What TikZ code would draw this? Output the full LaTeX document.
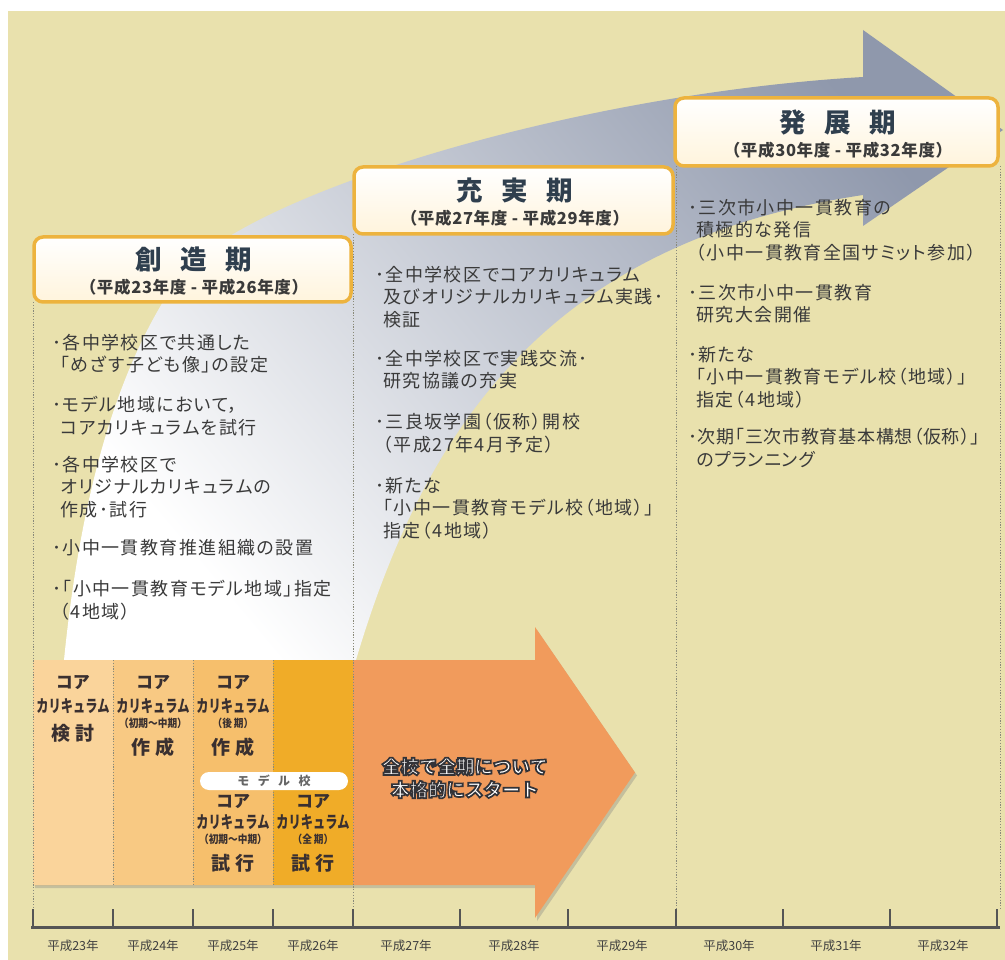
\documentclass[tikz,border=0pt]{standalone}
\usepackage{fontspec}
\usepackage{graphicx}
\setmainfont{Noto Sans CJK JP}
\newfontfamily\jpT{Noto Sans CJK JP}[CharacterWidth=AlternateProportional, LetterSpace=8]
\newfontfamily\jpC{Noto Sans CJK JP}[CharacterWidth=AlternateProportional, LetterSpace=4]
\newfontfamily\jpS{Noto Sans CJK JP}[LetterSpace=4]
\usetikzlibrary{shadows}
\definecolor{bg}{HTML}{E9E1AD}
\definecolor{bandgray}{HTML}{8F98AC}
\definecolor{bandmid}{HTML}{D0D3DB}
\definecolor{orangearr}{HTML}{F19B5C}
\definecolor{cA}{HTML}{FAD49B}
\definecolor{cB}{HTML}{F8C983}
\definecolor{cC}{HTML}{F6BF6C}
\definecolor{cD}{HTML}{F0AC28}
\definecolor{boxborder}{HTML}{EDB33E}
\definecolor{boxfill}{HTML}{FFF4DC}
\definecolor{titlecol}{HTML}{2F3F4E}
\definecolor{textcol}{HTML}{3A3A3A}
\definecolor{celltext}{HTML}{3A3030}
\definecolor{dotcol}{HTML}{8A8A7A}
\definecolor{axiscol}{HTML}{555555}
\newcommand{\outl}[1]{\special{pdf:literal direct 2 Tr 1.7 w 0.2 0.2 0.22 RG}#1\special{pdf:literal direct 0 Tr}}
\newcommand{\kari}{\scalebox{0.72}[1]{カリキュラム}}
\begin{document}
\begin{tikzpicture}[x=1pt,y=-1pt,
  dotline/.style={draw=dotcol, line width=0.8pt, dash pattern=on 1.2pt off 1.6pt},
  phasebox/.style={draw=boxborder, line width=3.5pt, rounded corners=9pt, top color=white, bottom color=boxfill, inner sep=0pt},
  phasetitle/.style={inner sep=0pt, text=titlecol, font=\bfseries\fontsize{26.5}{26.5}\selectfont},
  phasesub/.style={inner sep=0pt, text=textcol, font=\jpS\bfseries\fontsize{16.5}{16.5}\selectfont},
  bulletitem/.style={anchor=north west, inner sep=0pt, align=left, text=textcol, font=\jpT\fontsize{18}{22.5}\selectfont},
  celltxt/.style={inner sep=0pt, text=celltext, font=\bfseries\fontsize{17}{17}\selectfont},
  cellsmall/.style={inner sep=0pt, text=celltext, font=\bfseries\fontsize{11}{11}\selectfont},
  cellbig/.style={inner sep=0pt, text=celltext, font=\bfseries\fontsize{19}{19}\selectfont},
  yearlbl/.style={inner sep=0pt, text=black!75, font=\fontsize{12.5}{12.5}\selectfont},
  axisline/.style={draw=axiscol, line width=3pt},
  tickline/.style={draw=axiscol, line width=1.6pt}
]
\useasboundingbox (0,0) rectangle (1005,960);
\fill[white] (0,0) rectangle (1005,960);
\fill[bg] (8,11) rectangle (1005,960);

% big curved gray arrow
\path[top color=bandgray, middle color=bandmid, bottom color=white, shading angle=-50]
  (64,660) .. controls (82,480) and (122,360) .. (177,280)
  .. controls (232,200) and (560,95) .. (863,77)
  -- (863,30) -- (1003,130) -- (863,226) -- (863,195)
  .. controls (563,240) and (430,410) .. (356,660) -- cycle;

% phase boxes
\node[phasebox, minimum width=317pt, minimum height=65pt] (boxA) at (192.5,269.5) {};
\node[phasebox, minimum width=319pt, minimum height=67pt] (boxB) at (513.5,200.5) {};
\node[phasebox, minimum width=323pt, minimum height=68pt] (boxC) at (836.5,132) {};
\node[phasetitle] (titleA) at (194,259) {創\hspace{0.7em}造\hspace{0.7em}期};
\node[phasesub] (subA) at (194,287) {（平成23年度 - 平成26年度）};
\node[phasetitle] (titleB) at (515,190) {充\hspace{0.7em}実\hspace{0.7em}期};
\node[phasesub] (subB) at (515,218) {（平成27年度 - 平成29年度）};
\node[phasetitle] (titleC) at (838,122) {発\hspace{0.7em}展\hspace{0.7em}期};
\node[phasesub] (subC) at (838,150) {（平成30年度 - 平成32年度）};

% orange arrow
\path[fill=orangearr, drop shadow={shadow xshift=2pt, shadow yshift=-3pt, opacity=0.35}]
  (33,660) -- (535,660) -- (535,627) -- (635,772.5) -- (535,918) -- (535,885) -- (33,885) -- cycle;

% cells
\fill[cA] (33,660) rectangle (113,885);
\fill[cB] (113,660) rectangle (193,885);
\fill[cC] (193,660) rectangle (273,885);
\fill[cD] (273,660) rectangle (353,885);

% dotted lines
\draw[dotline] (33,302) -- (33,909);
\draw[dotline] (353,234) -- (353,909);
\draw[dotline] (676,166) -- (676,909);
\draw[dotline] (1000,166) -- (1000,909);
\draw[dotline] (113,660) -- (113,885);
\draw[dotline] (193,660) -- (193,885);
\draw[dotline] (273,660) -- (273,885);

% cell texts
\node[celltxt] (a1) at (73,683) {コア};
\node[celltxt] (a2) at (73,706) {\kari};
\node[cellbig] (a3) at (73,733) {検\hspace{0.25em}討};
\node[celltxt] (b1) at (153,683) {コア};
\node[celltxt] (b2) at (153,706) {\kari};
\node[cellsmall] (b3) at (153,723) {\scalebox{0.88}[1]{（初期〜中期）}};
\node[cellbig] (b4) at (153,747) {作\hspace{0.25em}成};
\node[celltxt] (c1) at (233,683) {コア};
\node[celltxt] (c2) at (233,706) {\kari};
\node[cellsmall] (c3) at (233,723) {\scalebox{0.88}[1]{（後\hspace{0.2em}期）}};
\node[cellbig] (c4) at (233,747) {作\hspace{0.25em}成};
\node[fill=white, rounded corners=9pt, minimum width=148pt, minimum height=18pt, inner sep=0pt, text=black!60, font=\bfseries\fontsize{12}{12}\selectfont] (pill) at (274,781) {モ\hspace{0.7em}デ\hspace{0.7em}ル\hspace{0.7em}校};
\node[celltxt] (c5) at (233,802) {コア};
\node[celltxt] (c6) at (233,822) {\kari};
\node[cellsmall] (c7) at (233,839) {\scalebox{0.88}[1]{（初期〜中期）}};
\node[cellbig] (c8) at (233,863) {試\hspace{0.25em}行};
\node[celltxt] (d1) at (313,802) {コア};
\node[celltxt] (d2) at (313,822) {\kari};
\node[cellsmall] (d3) at (313,839) {\scalebox{0.88}[1]{（全\hspace{0.2em}期）}};
\node[cellbig] (d4) at (313,863) {試\hspace{0.25em}行};

% column A items
\node[bulletitem] (A1) at (52,334) {･各中学校区で共通した\\\hspace*{0.45em}「めざす子ども像」の設定};
\node[bulletitem] (A2) at (52,396) {･モデル地域において，\\\hspace*{0.45em}コアカリキュラムを試行};
\node[bulletitem] (A3) at (52,456) {･各中学校区で\\\hspace*{0.45em}オリジナルカリキュラムの\\\hspace*{0.45em}作成･試行};
\node[bulletitem] (A4) at (52,539) {･小中一貫教育推進組織の設置};
\node[bulletitem] (A5) at (52,580) {･「小中一貫教育モデル地域」指定\\\hspace*{0.45em}（4地域）};
% column B items
\node[bulletitem] (B1) at (375,266) {･全中学校区でコアカリキュラム\\\hspace*{0.45em}及びオリジナルカリキュラム実践･\\\hspace*{0.45em}検証};
\node[bulletitem] (B2) at (375,350) {･全中学校区で実践交流･\\\hspace*{0.45em}研究協議の充実};
\node[bulletitem] (B3) at (375,413) {･三良坂学園（仮称）開校\\\hspace*{0.45em}（平成27年4月予定）};
\node[bulletitem] (B4) at (375,477) {･新たな\\\hspace*{0.45em}「小中一貫教育モデル校（地域）」\\\hspace*{0.45em}指定（4地域）};
% column C items
\node[bulletitem] (C1) at (688,199) {･三次市小中一貫教育の\\\hspace*{0.45em}積極的な発信\\\hspace*{0.45em}（小中一貫教育全国サミット参加）};
\node[bulletitem] (C2) at (688,284) {･三次市小中一貫教育\\\hspace*{0.45em}研究大会開催};
\node[bulletitem] (C3) at (688,346) {･新たな\\\hspace*{0.45em}「小中一貫教育モデル校（地域）」\\\hspace*{0.45em}指定（4地域）};
\node[bulletitem, font=\jpC\fontsize{18}{22.5}\selectfont] (C4) at (688,428) {･次期「三次市教育基本構想（仮称）」\\\hspace*{0.45em}のプランニング};

% timeline
\coordinate (axL) at (31,927);
\coordinate (axR) at (1000,927);
\draw[axisline] (axL) -- (axR);
\foreach \x [count=\i] in {33,113,193,273,353,460,568,676,783,890,997} {
  \coordinate (tk\i) at (\x,909);
  \draw[tickline] (tk\i) -- (\x,927);
}
\foreach \x/\y [count=\i] in {73/23,153/24,233/25,313/26,406/27,514/28,622/29,729/30,836/31,943/32} {
  \node[yearlbl] (yr\i) at (\x,946) {平成{\y}年};
}

% start text on the orange arrow
\node[text=white, inner sep=0pt, align=center, font=\bfseries\fontsize{18.5}{23}\selectfont] (start) at (465,778) {\outl{全校で全期について}\\\outl{本格的にスタート}};
\end{tikzpicture}
\end{document}
